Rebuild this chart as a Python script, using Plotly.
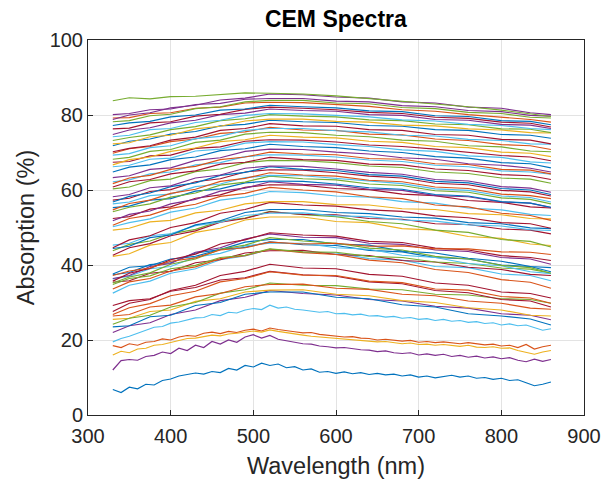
import plotly.graph_objects as go

# Wavelength sample points (nm)
wavelength = [330, 350, 375, 400, 430, 460, 490, 520, 560, 600, 640, 680, 720, 760, 800, 835, 860]
# finer sampling used for the isolated, visibly noisy low spectra
wavelength_fine = [330, 340, 350, 360, 370, 380, 390, 400, 410, 420, 430, 440, 450, 460, 470, 480,
                   490, 500, 510, 520, 530, 540, 550, 560, 570, 580, 590, 600, 610, 620, 630, 640,
                   650, 660, 670, 680, 690, 700, 710, 720, 730, 740, 750, 760, 770, 780, 790, 800,
                   810, 820, 830, 840, 850, 860]

s01 = [6.8, 6.0, 7.4, 7.0, 8.2, 8.0, 9.2, 9.6, 10.4, 10.8, 11.2, 10.9, 11.6, 11.3, 12.4, 12.0,
       13.2, 12.8, 13.8, 13.2, 13.6, 12.6, 12.9, 12.0, 12.3, 11.4, 11.6, 11.1, 11.5, 11.0, 11.3, 10.8,
       11.1, 10.7, 10.9, 10.4, 10.7, 10.1, 10.4, 9.9, 10.2, 10.6, 10.1, 10.4, 9.8, 10.0, 9.5, 9.8,
       9.2, 9.4, 8.6, 7.8, 8.2, 8.8]
s02 = [12.0, 14.5, 14.8, 14.6, 15.6, 15.9, 16.8, 16.4, 17.8, 17.2, 18.6, 18.0, 19.6, 18.9, 20.0, 19.4,
       20.8, 21.4, 20.5, 21.2, 20.2, 19.8, 19.6, 19.0, 18.9, 18.4, 18.2, 17.9, 18.0, 17.6, 17.4, 17.3,
       16.9, 17.1, 16.6, 16.4, 16.6, 16.0, 16.3, 15.9, 16.2, 15.6, 15.9, 15.4, 15.7, 15.2, 15.5, 15.0,
       15.3, 14.6, 14.2, 14.9, 14.3, 14.8]
s03 = [18.5, 18.0, 19.0, 18.6, 19.4, 19.6, 20.3, 20.0, 20.8, 21.2, 21.0, 21.8, 22.1, 21.7, 22.3, 22.0,
       22.6, 22.9, 22.4, 23.2, 22.8, 22.6, 22.2, 21.9, 22.0, 21.5, 21.2, 21.0, 20.8, 20.9, 20.5, 20.4,
       20.0, 20.2, 19.9, 19.7, 19.9, 19.4, 19.6, 19.3, 19.5, 19.2, 19.0, 19.3, 18.9, 18.7, 18.9, 18.4,
       18.6, 18.0, 18.8, 17.6, 18.2, 18.6]
s04 = [16.0, 17.0, 16.6, 17.6, 17.8, 18.6, 18.8, 19.4, 19.8, 20.4, 20.5, 21.0, 21.3, 21.1, 21.6, 21.8,
       22.0, 22.4, 22.1, 22.7, 22.3, 21.9, 21.6, 21.3, 21.0, 20.8, 20.6, 20.4, 20.3, 20.0, 19.9, 19.7,
       19.5, 19.6, 19.2, 19.0, 19.2, 18.8, 18.9, 18.6, 18.8, 18.5, 18.3, 18.6, 18.1, 18.0, 18.2, 17.8,
       17.9, 17.2, 16.6, 16.2, 16.8, 17.2]
s05 = [19.5, 20.4, 21.0, 21.8, 22.5, 23.4, 23.6, 24.5, 24.8, 25.4, 25.9, 26.0, 26.8, 26.5, 27.4, 27.2,
       28.0, 28.4, 28.1, 29.3, 28.5, 28.8, 28.2, 28.0, 27.8, 27.4, 27.6, 27.0, 27.1, 26.7, 26.9, 26.4,
       26.5, 26.1, 26.3, 25.8, 26.0, 25.5, 25.7, 25.2, 25.5, 25.0, 25.2, 24.7, 24.9, 24.4, 24.6, 24.0,
       24.3, 23.8, 24.0, 23.2, 22.6, 23.0]

s06 = [22.0, 23.8, 24.6, 26.8, 28.0, 30.5, 31.4, 33.2, 32.4, 32.0, 30.8, 30.4, 29.0, 28.5, 27.0, 26.6, 25.4]
s07 = [23.5, 23.8, 26.2, 26.6, 29.2, 30.0, 32.2, 32.8, 32.8, 31.4, 31.0, 29.4, 28.8, 27.0, 26.4, 25.6, 24.0]
s08 = [25.5, 25.8, 27.6, 28.0, 30.3, 31.0, 32.8, 33.3, 33.4, 32.2, 31.8, 30.5, 30.0, 28.6, 28.0, 26.6, 26.4]
s09 = [24.2, 25.8, 26.6, 28.8, 30.0, 32.5, 33.4, 35.2, 34.6, 34.5, 33.6, 33.4, 32.2, 32.0, 31.0, 30.8, 29.8]
s10 = [26.4, 26.8, 28.8, 29.3, 31.5, 32.4, 34.2, 34.8, 34.9, 33.8, 33.5, 32.2, 31.8, 30.4, 29.8, 28.5, 28.2]
s11 = [29.2, 30.5, 31.0, 33.0, 34.0, 36.0, 36.6, 38.3, 37.4, 37.0, 35.5, 35.0, 33.2, 32.6, 30.8, 30.4, 28.8]
s12 = [27.6, 29.8, 30.8, 33.2, 34.6, 37.2, 38.3, 40.2, 39.2, 39.0, 37.5, 37.0, 35.2, 34.6, 32.8, 32.4, 31.2]
s13 = [26.8, 28.6, 29.7, 31.8, 33.0, 35.5, 36.4, 38.2, 37.3, 37.2, 35.7, 35.3, 33.6, 33.3, 31.6, 31.2, 29.8]
s14 = [32.5, 34.6, 35.7, 37.8, 39.0, 41.4, 42.4, 44.2, 43.4, 43.2, 41.7, 41.3, 39.6, 39.3, 37.6, 37.2, 35.8]
s15 = [35.4, 35.8, 37.8, 38.3, 40.6, 41.4, 43.2, 43.8, 43.9, 42.8, 42.5, 41.2, 40.8, 39.4, 38.8, 37.5, 37.2]
s16 = [33.6, 35.5, 36.4, 38.4, 39.5, 41.7, 42.5, 44.2, 43.3, 42.8, 41.3, 40.6, 38.8, 38.0, 36.1, 35.4, 33.8]
s17 = [34.8, 36.4, 37.1, 39.0, 39.9, 42.0, 42.6, 44.3, 43.5, 43.4, 42.3, 42.0, 40.8, 40.4, 39.2, 38.9, 37.8]
s18 = [37.6, 39.4, 39.8, 41.6, 42.3, 44.2, 44.7, 46.2, 45.4, 45.2, 43.9, 43.5, 42.0, 41.6, 40.0, 39.6, 38.2]
s19 = [36.3, 37.0, 39.0, 39.6, 42.1, 43.1, 45.1, 45.8, 45.8, 44.6, 44.2, 42.6, 42.0, 40.4, 39.8, 38.2, 37.7]
s20 = [37.4, 38.0, 40.1, 40.6, 43.2, 44.1, 46.1, 46.8, 46.8, 45.6, 45.3, 43.7, 43.2, 41.8, 41.0, 39.6, 39.3]
s21 = [35.2, 36.8, 37.9, 40.2, 41.6, 44.2, 45.3, 47.3, 46.4, 45.8, 44.5, 44.0, 42.3, 41.6, 39.9, 39.3, 37.8]
s22 = [36.4, 37.2, 39.6, 40.4, 43.4, 44.6, 46.9, 48.3, 47.4, 47.3, 45.8, 45.5, 44.0, 43.6, 42.0, 41.6, 40.2]
s23 = [35.7, 37.8, 39.1, 41.4, 42.9, 45.6, 46.7, 48.6, 48.0, 47.7, 46.3, 46.0, 44.5, 44.0, 42.5, 42.0, 41.2]
s24 = [37.2, 38.4, 39.2, 41.0, 41.9, 44.0, 44.6, 46.1, 45.6, 45.8, 45.0, 45.1, 44.3, 44.3, 43.5, 43.4, 42.8]
s25 = [42.3, 43.0, 45.3, 46.0, 48.7, 49.8, 52.0, 52.8, 52.8, 51.6, 51.3, 49.7, 49.3, 47.6, 47.1, 45.6, 45.2]
s26 = [43.8, 45.5, 46.4, 48.3, 49.5, 51.7, 52.5, 54.3, 53.4, 52.9, 51.6, 51.0, 49.3, 48.7, 46.8, 46.3, 44.8]
s27 = [42.6, 44.6, 45.7, 47.8, 49.1, 51.4, 52.4, 54.2, 53.5, 53.4, 52.4, 52.2, 51.0, 50.8, 49.6, 49.3, 48.3]
s28 = [45.3, 45.8, 47.8, 48.3, 50.5, 51.4, 53.2, 53.8, 53.9, 53.1, 52.9, 52.0, 51.7, 50.7, 50.4, 49.4, 49.2]
s29 = [44.4, 45.0, 47.3, 48.0, 50.7, 51.8, 54.0, 54.8, 54.8, 54.0, 53.7, 52.8, 52.5, 51.3, 51.0, 49.9, 49.7]
s30 = [44.6, 46.7, 47.8, 50.0, 51.3, 53.8, 54.8, 56.7, 56.0, 55.7, 54.7, 54.3, 53.1, 52.6, 51.3, 51.0, 49.8]
s31 = [49.3, 49.8, 51.5, 51.9, 53.9, 54.6, 56.3, 56.9, 56.9, 56.1, 56.0, 55.0, 54.8, 53.7, 53.4, 52.4, 52.3]
s32 = [50.2, 51.3, 52.3, 54.1, 55.2, 57.3, 58.1, 59.6, 59.3, 58.4, 58.1, 56.9, 56.5, 55.2, 54.7, 53.5, 53.2]
s33 = [50.6, 52.4, 53.3, 55.1, 56.2, 58.3, 59.1, 60.7, 60.0, 59.5, 58.2, 57.7, 56.0, 55.5, 53.8, 53.2, 51.9]
s34 = [52.4, 52.9, 54.9, 55.5, 57.8, 58.7, 60.7, 61.4, 61.3, 60.4, 60.1, 58.9, 58.5, 57.2, 56.7, 55.5, 55.2]
s35 = [51.8, 53.5, 54.4, 56.3, 57.5, 59.7, 60.5, 62.2, 61.5, 61.3, 60.2, 59.9, 58.5, 58.2, 56.8, 56.5, 55.3]
s36 = [55.3, 55.7, 57.3, 57.7, 59.7, 60.3, 61.9, 62.4, 62.3, 61.6, 60.6, 60.2, 58.8, 58.4, 56.9, 56.5, 55.4]
s37 = [54.2, 55.4, 56.3, 58.1, 59.2, 61.3, 62.1, 63.7, 63.0, 62.7, 61.6, 61.2, 59.8, 59.4, 57.9, 57.5, 56.3]
s38 = [56.3, 56.8, 58.5, 58.9, 60.9, 61.6, 63.3, 63.9, 63.8, 63.1, 62.2, 61.7, 60.3, 59.9, 58.4, 58.0, 56.8]
s39 = [54.7, 56.4, 57.3, 59.1, 60.2, 62.3, 63.1, 64.6, 64.0, 63.7, 62.6, 62.2, 60.8, 60.4, 58.9, 58.5, 57.7]
s40 = [57.3, 57.8, 59.6, 60.1, 62.2, 63.0, 64.8, 65.4, 65.3, 64.6, 63.7, 63.2, 61.8, 61.4, 59.9, 59.5, 58.4]
s41 = [56.8, 58.3, 59.2, 60.9, 61.9, 63.9, 64.7, 66.2, 65.5, 65.2, 64.1, 63.7, 62.3, 61.9, 60.4, 60.0, 58.8]
s42 = [58.2, 58.8, 60.6, 61.1, 63.2, 64.0, 65.8, 66.4, 66.3, 65.6, 64.7, 64.2, 62.8, 62.4, 60.9, 60.5, 59.4]
s43 = [60.3, 60.8, 62.5, 62.9, 64.9, 65.6, 67.3, 67.9, 67.8, 67.3, 66.4, 66.0, 64.8, 64.4, 63.2, 62.9, 61.8]
s44 = [60.8, 62.2, 62.8, 64.3, 65.1, 66.9, 67.4, 68.7, 68.1, 67.9, 66.9, 66.7, 65.6, 65.2, 64.1, 63.8, 62.8]
s45 = [62.2, 62.7, 64.3, 64.8, 66.7, 67.3, 68.9, 69.4, 69.3, 68.8, 68.0, 67.6, 66.6, 66.2, 65.1, 64.8, 64.2]
s46 = [61.7, 63.2, 63.9, 65.5, 66.3, 68.1, 68.8, 70.1, 69.6, 69.4, 68.4, 68.2, 67.0, 66.8, 65.5, 65.3, 64.3]
s47 = [63.3, 63.8, 65.5, 65.9, 67.9, 68.6, 70.3, 70.9, 70.8, 70.1, 69.6, 68.6, 68.2, 67.0, 66.6, 65.8, 64.8]
s48 = [64.8, 66.1, 66.7, 68.1, 68.8, 70.5, 71.0, 72.2, 71.6, 71.3, 70.4, 70.0, 68.9, 68.5, 67.3, 67.0, 65.9]
s49 = [66.2, 66.6, 68.2, 68.5, 70.4, 70.9, 72.5, 72.9, 72.8, 72.1, 71.6, 70.7, 70.3, 69.1, 68.7, 67.5, 67.2]
s50 = [67.4, 67.6, 69.1, 69.3, 71.1, 71.5, 73.0, 73.4, 73.3, 72.8, 72.0, 71.6, 70.9, 70.1, 69.2, 68.8, 67.8]
s51 = [66.7, 68.1, 68.8, 70.3, 71.2, 72.9, 73.4, 74.6, 74.1, 73.9, 73.0, 72.7, 71.6, 71.3, 70.1, 69.8, 68.9]
s52 = [68.2, 68.7, 70.3, 70.8, 72.7, 73.3, 74.9, 75.4, 75.3, 74.6, 74.2, 73.3, 73.0, 71.8, 71.5, 70.4, 70.2]
s53 = [69.8, 71.0, 71.6, 72.9, 73.6, 75.1, 75.5, 76.7, 76.0, 75.9, 74.9, 74.7, 73.6, 73.2, 72.1, 71.8, 70.8]
s54 = [69.3, 69.7, 71.3, 71.8, 73.7, 74.3, 75.9, 76.4, 76.4, 75.8, 75.5, 74.6, 74.4, 73.5, 73.2, 72.3, 72.2]
s55 = [70.2, 71.1, 71.8, 73.3, 74.1, 75.9, 76.4, 77.7, 77.1, 77.0, 76.1, 75.9, 74.8, 74.6, 73.5, 73.3, 72.3]
s56 = [71.8, 73.0, 73.6, 74.9, 75.6, 77.1, 77.5, 78.6, 78.2, 78.0, 77.2, 77.0, 76.1, 75.9, 74.8, 74.6, 73.8]
s57 = [72.3, 72.6, 74.2, 74.6, 76.3, 77.0, 78.4, 78.9, 78.9, 78.3, 78.1, 77.3, 77.1, 76.3, 76.0, 75.3, 75.2]
s58 = [73.2, 74.0, 74.7, 76.1, 76.9, 78.5, 79.0, 80.1, 79.7, 79.5, 78.7, 78.5, 77.6, 77.4, 76.3, 76.2, 75.3]
s59 = [74.2, 74.6, 76.1, 76.4, 78.0, 78.6, 79.9, 80.4, 80.3, 79.8, 79.5, 78.7, 78.4, 77.5, 77.2, 76.4, 76.1]
s60 = [74.8, 76.0, 76.6, 77.9, 78.6, 80.1, 80.5, 81.6, 81.2, 81.0, 80.1, 79.9, 78.8, 78.6, 77.5, 77.3, 76.4]
s61 = [76.3, 76.5, 77.9, 78.2, 79.7, 80.2, 81.5, 82.1, 81.8, 81.4, 80.7, 80.4, 79.4, 79.1, 78.1, 77.8, 76.8]
s62 = [77.2, 77.9, 78.3, 79.5, 80.0, 81.3, 81.6, 82.6, 82.2, 81.9, 81.1, 80.9, 79.8, 79.6, 78.5, 78.3, 77.4]
s63 = [79.2, 79.3, 80.4, 80.6, 81.8, 82.1, 83.2, 83.4, 83.3, 82.7, 82.3, 81.4, 81.0, 80.1, 79.5, 78.8, 78.1]
s64 = [78.2, 78.5, 79.8, 80.2, 81.7, 82.2, 83.5, 83.9, 83.9, 83.2, 83.0, 82.0, 81.7, 80.7, 80.4, 79.4, 79.2]
s65 = [80.1, 80.4, 81.4, 81.6, 82.8, 83.1, 84.2, 84.4, 84.4, 83.7, 83.5, 82.5, 82.2, 81.2, 80.9, 79.9, 79.7]
s66 = [78.8, 80.0, 80.6, 81.9, 82.6, 84.0, 84.5, 85.6, 85.4, 84.8, 84.5, 83.5, 83.2, 82.1, 81.8, 80.6, 80.1]
s67 = [83.8, 84.6, 84.3, 84.9, 85.0, 85.4, 85.9, 85.8, 85.6, 85.1, 84.4, 83.7, 82.9, 82.2, 81.3, 80.4, 79.6]

fine_spectra = [s01, s02, s03, s04, s05]
coarse_spectra = [s06, s07, s08, s09, s10, s11, s12, s13, s14, s15, s16, s17,
                  s18, s19, s20, s21, s22, s23, s24, s25, s26, s27, s28, s29, s30, s31, s32, s33, s34,
                  s35, s36, s37, s38, s39, s40, s41, s42, s43, s44, s45, s46, s47, s48, s49, s50, s51,
                  s52, s53, s54, s55, s56, s57, s58, s59, s60, s61, s62, s63, s64, s65, s66, s67]

# colour code per spectrum (MATLAB default colour order)
color_codes = "BPOYLPBYGORROLROGBLBGPROYGRLBRYLORPBGLORBPGRLOPBLRYGOLRBYGLPRBOGPPG"

palette = {
    "B": "#0072BD", "O": "#D95319", "Y": "#EDB120", "P": "#7E2F8E",
    "G": "#77AC30", "L": "#4DBEEE", "R": "#A2142F",
}

series = [(wavelength_fine, v) for v in fine_spectra] + [(wavelength, v) for v in coarse_spectra]

fig = go.Figure()
for (xs, vals), code in zip(series, color_codes):
    fig.add_trace(go.Scatter(
        x=xs, y=vals, mode="lines",
        line=dict(color=palette[code], width=1.2),
        showlegend=False, hoverinfo="skip",
    ))

font_family = "Liberation Sans, Arial, sans-serif"
axis_common = dict(
    showline=True, mirror=True, linecolor="#262626", linewidth=1,
    ticks="inside", ticklen=5, tickcolor="#262626",
    showgrid=True, gridcolor="#e3e3e3", gridwidth=1,
    zeroline=False, automargin=False,
    tickfont=dict(family=font_family, size=20, color="#262626"),
)

fig.update_layout(
    width=603, height=481,
    margin=dict(l=88, r=19, t=40, b=66),
    paper_bgcolor="white", plot_bgcolor="white",
    title=dict(text="<b>CEM Spectra</b>", x=0.557, xanchor="center",
               y=1 - 19 / 481, yanchor="middle", yref="container",
               font=dict(family=font_family, size=23, color="black")),
    xaxis=dict(range=[300, 900], dtick=100, tick0=300, ticklabelstandoff=3,
               title=dict(text="Wavelength (nm)", standoff=11,
                          font=dict(family=font_family, size=23.5, color="#262626")),
               **axis_common),
    yaxis=dict(range=[0, 100], dtick=20, tick0=0,
               title=dict(text="Absorption (%)", standoff=8,
                          font=dict(family=font_family, size=23.5, color="#262626")),
               **axis_common),
)

fig.write_html("out.html")
